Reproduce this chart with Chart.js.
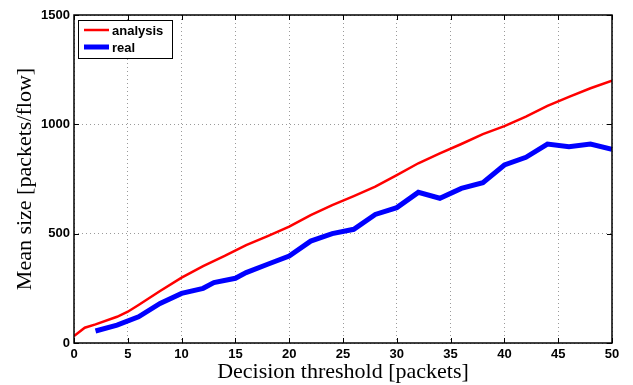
<!DOCTYPE html>
<html>
<head>
<meta charset="utf-8">
<script src="https://cdn.jsdelivr.net/npm/chart.js@4"></script>
<style>
  html, body { margin: 0; padding: 0; background: #fff; }
  #wrap { width: 633px; height: 385px; }
</style>
</head>
<body>
<div id="wrap"><canvas id="graphCanvas" width="633" height="385"></canvas></div>
<script>
// analysis curve
const analysisX = [0, 1, 2, 4, 5, 6, 8, 10, 12, 14, 16, 18, 20, 22, 24, 26, 28, 30, 32, 34, 36, 38, 40, 42, 44, 46, 48, 50];
const analysisY = [32, 70, 85, 120, 143, 174, 238, 299, 352, 398, 448, 489, 532, 585, 631, 672, 715, 768, 822, 867, 910, 955, 992, 1035, 1084, 1126, 1165, 1200];

// measured curve
const realX = [2, 4, 6, 8, 10, 12, 13, 15, 16, 18, 20, 22, 24, 26, 28, 30, 32, 34, 36, 38, 40, 42, 44, 46, 48, 50];
const realY = [55, 82, 120, 181, 227, 250, 276, 296, 322, 360, 398, 466, 500, 520, 588, 619, 689, 662, 707, 733, 814, 849, 910, 898, 910, 886];

const xTicks = [0, 5, 10, 15, 20, 25, 30, 35, 40, 45, 50];
const yTicks = [0, 500, 1000, 1500];

const tickFont = { family: 'Liberation Sans', size: 13, weight: 'bold' };
const titleFont = { family: 'Liberation Serif', size: 22 };

// box, inward ticks on all four sides, legend with a frame
const framePlugin = {
    id: 'frame',
    afterDraw(chart) {
        const ctx = chart.ctx;
        const a = chart.chartArea;
        const xs = chart.scales.x, ys = chart.scales.y;
        ctx.save();
        ctx.strokeStyle = '#000';
        ctx.lineWidth = 1;
        ctx.setLineDash([]);
        ctx.beginPath();
        xTicks.forEach(v => {
            const px = Math.round(xs.getPixelForValue(v)) + 0.5;
            ctx.moveTo(px, a.bottom); ctx.lineTo(px, a.bottom - 5);
            ctx.moveTo(px, a.top); ctx.lineTo(px, a.top + 5);
        });
        yTicks.forEach(v => {
            const py = Math.round(ys.getPixelForValue(v)) + 0.5;
            ctx.moveTo(a.left, py); ctx.lineTo(a.left + 5, py);
            ctx.moveTo(a.right, py); ctx.lineTo(a.right - 5, py);
        });
        ctx.stroke();
        ctx.lineWidth = 1.5;
        ctx.strokeRect(a.left, a.top, a.right - a.left, a.bottom - a.top);

        // legend
        const lx = a.left + 4, ly = a.top + 5, lw = 94, lh = 38;
        ctx.fillStyle = '#fff';
        ctx.fillRect(lx, ly, lw, lh);
        ctx.lineWidth = 1;
        ctx.strokeRect(lx + 0.5, ly + 0.5, lw, lh);
        ctx.font = 'bold 13px "Liberation Sans"';
        ctx.textBaseline = 'middle';
        chart.data.datasets.forEach((ds, i) => {
            const yy = ly + 10 + i * 17;
            ctx.strokeStyle = ds.borderColor;
            ctx.lineWidth = ds.borderWidth;
            ctx.beginPath();
            ctx.moveTo(lx + 6, yy); ctx.lineTo(lx + 31, yy);
            ctx.stroke();
            ctx.fillStyle = '#000';
            ctx.fillText(ds.label, lx + 34, yy + 1);
        });
        ctx.restore();
    }
};

const ctx = document.getElementById('graphCanvas').getContext('2d');
new Chart(ctx, {
    type: 'line',
    data: {
        datasets: [
            {
                label: 'analysis',
                data: analysisX.map((x, i) => ({ x: x, y: analysisY[i] })),
                borderColor: '#ff0000',
                borderWidth: 2.5,
                pointRadius: 0,
                tension: 0,
                fill: false
            },
            {
                label: 'real',
                data: realX.map((x, i) => ({ x: x, y: realY[i] })),
                borderColor: '#0000ff',
                borderWidth: 5,
                pointRadius: 0,
                tension: 0,
                fill: false
            }
        ]
    },
    options: {
        responsive: false,
        animation: false,
        layout: { padding: { left: 0, top: 15, right: 21, bottom: 0 } },
        plugins: {
            legend: { display: false },
            tooltip: { enabled: false }
        },
        scales: {
            x: {
                type: 'linear',
                min: 0,
                max: 50,
                afterFit: s => { s.height = 42; },
                afterBuildTicks: s => { s.ticks = xTicks.map(v => ({ value: v })); },
                ticks: { font: tickFont, color: '#000', padding: 4, maxRotation: 0, callback: v => String(v) },
                grid: { color: '#9a9a9a', lineWidth: 1, drawTicks: false },
                border: { display: false, dash: [1, 3] },
                title: { display: true, text: 'Decision threshold [packets]', font: titleFont, color: '#000', padding: { top: 0, bottom: 0 } }
            },
            y: {
                min: 0,
                max: 1500,
                afterFit: s => { s.width = 74; },
                afterBuildTicks: s => { s.ticks = yTicks.map(v => ({ value: v })); },
                ticks: { font: tickFont, color: '#000', padding: 4, callback: v => String(v) },
                grid: { color: '#9a9a9a', lineWidth: 1, drawTicks: false },
                border: { display: false, dash: [1, 3] },
                title: { display: true, text: 'Mean size [packets/flow]', font: titleFont, color: '#000', padding: { top: 12, bottom: 0 } }
            }
        }
    },
    plugins: [framePlugin]
});
</script>
</body>
</html>
